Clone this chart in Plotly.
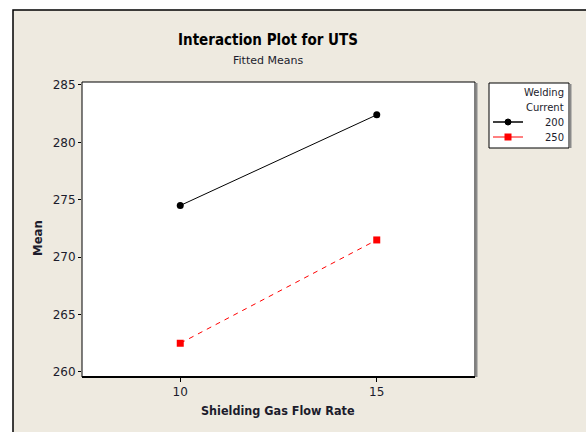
import plotly.graph_objects as go

# Fitted means of UTS by shielding gas flow rate, one line per welding current
flow_rate = [10, 15]
current_levels = ["200", "250"]
mean_200 = [274.5, 282.4]
mean_250 = [262.5, 271.5]
y_ticks = [260, 265, 270, 275, 280, 285]
x_ticks = [10, 15]

W, H = 586, 432
L, R, T, B = 82, 475, 82, 377  # plot area in pixels


def px(x):
    return (x - L) / (R - L)


def py(y):
    return (B - y) / (B - T)


BEIGE = "#EEEAE0"
TXT = "#1c1c2c"
COND = "DejaVu Sans Condensed, DejaVu Sans"

fig = go.Figure()
fig.add_trace(go.Scatter(
    x=flow_rate, y=mean_200, mode="lines+markers", name=current_levels[0],
    line=dict(color="black", width=1),
    marker=dict(symbol="circle", size=7, color="black"),
))
fig.add_trace(go.Scatter(
    x=flow_rate, y=mean_250, mode="lines+markers", name=current_levels[1],
    line=dict(color="#FF0000", width=1, dash="5px,5px"),
    marker=dict(symbol="square", size=7, color="#FF0000"),
))

shapes = [
    # outer panel
    dict(type="rect", xref="paper", yref="paper", layer="below",
         x0=px(13), x1=px(W + 5), y0=py(H + 5), y1=py(10),
         fillcolor=BEIGE, line=dict(color="black", width=1.5)),
    # plot area
    dict(type="rect", xref="paper", yref="paper", layer="below",
         x0=0, x1=1, y0=0, y1=1, fillcolor="white",
         line=dict(color="black", width=1)),
    # shadow on right edge of plot area
    dict(type="line", xref="paper", yref="paper",
         x0=px(476.5), x1=px(476.5), y0=py(B), y1=py(T + 1),
         line=dict(color="#8a8a8a", width=2)),
    # heavier bottom axis
    dict(type="line", xref="paper", yref="paper",
         x0=0, x1=1, y0=0, y1=0, line=dict(color="black", width=2)),
    # legend box
    dict(type="rect", xref="paper", yref="paper",
         x0=px(489), x1=px(569), y0=py(148), y1=py(83),
         fillcolor="white", line=dict(color="black", width=1)),
    dict(type="line", xref="paper", yref="paper",
         x0=px(570.5), x1=px(570.5), y0=py(148), y1=py(84),
         line=dict(color="#8a8a8a", width=2)),
    # legend keys
    dict(type="line", xref="paper", yref="paper",
         x0=px(493), x1=px(523), y0=py(122), y1=py(122),
         line=dict(color="black", width=1.5)),
    dict(type="circle", xref="paper", yref="paper",
         x0=px(505), x1=px(511), y0=py(125), y1=py(119),
         fillcolor="black", line=dict(color="black", width=1)),
    dict(type="line", xref="paper", yref="paper",
         x0=px(493), x1=px(523), y0=py(137), y1=py(137),
         line=dict(color="#FF0000", width=1)),
    dict(type="rect", xref="paper", yref="paper",
         x0=px(504.5), x1=px(511.5), y0=py(140.5), y1=py(133.5),
         fillcolor="#FF0000", line=dict(color="#FF0000", width=0)),
]

annotations = [
    dict(text="<b>Interaction Plot for UTS</b>", x=px(268), y=py(40),
         font=dict(family=COND, size=15, color="black")),
    dict(text="Fitted Means", x=px(268), y=py(60),
         font=dict(family="DejaVu Sans", size=11, color=TXT)),
    dict(text="<b>Shielding Gas Flow Rate</b>", x=px(278), y=py(410),
         font=dict(family=COND, size=12.5, color=TXT)),
    dict(text="<b>Mean</b>", x=px(37), y=py(238), textangle=-90,
         font=dict(family=COND, size=13, color=TXT)),
    dict(text="Welding", x=px(566), y=py(93), xanchor="right",
         font=dict(family="DejaVu Sans", size=10, color=TXT)),
    dict(text="Current", x=px(566), y=py(107), xanchor="right",
         font=dict(family="DejaVu Sans", size=10, color=TXT)),
    dict(text=current_levels[0], x=px(566), y=py(122), xanchor="right",
         font=dict(family="DejaVu Sans", size=10, color=TXT)),
    dict(text=current_levels[1], x=px(566), y=py(137), xanchor="right",
         font=dict(family="DejaVu Sans", size=10, color=TXT)),
]
for a in annotations:
    a.update(xref="paper", yref="paper", showarrow=False)
    a.setdefault("xanchor", "center")
    a.setdefault("yanchor", "middle")

fig.update_layout(
    width=W, height=H,
    margin=dict(l=L, r=W - R, t=T, b=H - B),
    paper_bgcolor="white", plot_bgcolor="white",
    showlegend=False,
    shapes=shapes, annotations=annotations,
    font=dict(family="DejaVu Sans", size=12, color=TXT),
)
fig.update_xaxes(range=[7.5, 17.5], tickvals=x_ticks, ticks="outside",
                 ticklen=4, tickcolor="black", showgrid=False, zeroline=False,
                 showline=False)
fig.update_yaxes(range=[259.56, 285.26], tickvals=y_ticks, ticks="outside",
                 ticklen=3, tickcolor="black", showgrid=False, zeroline=False,
                 showline=False)

fig.write_html("out.html")
